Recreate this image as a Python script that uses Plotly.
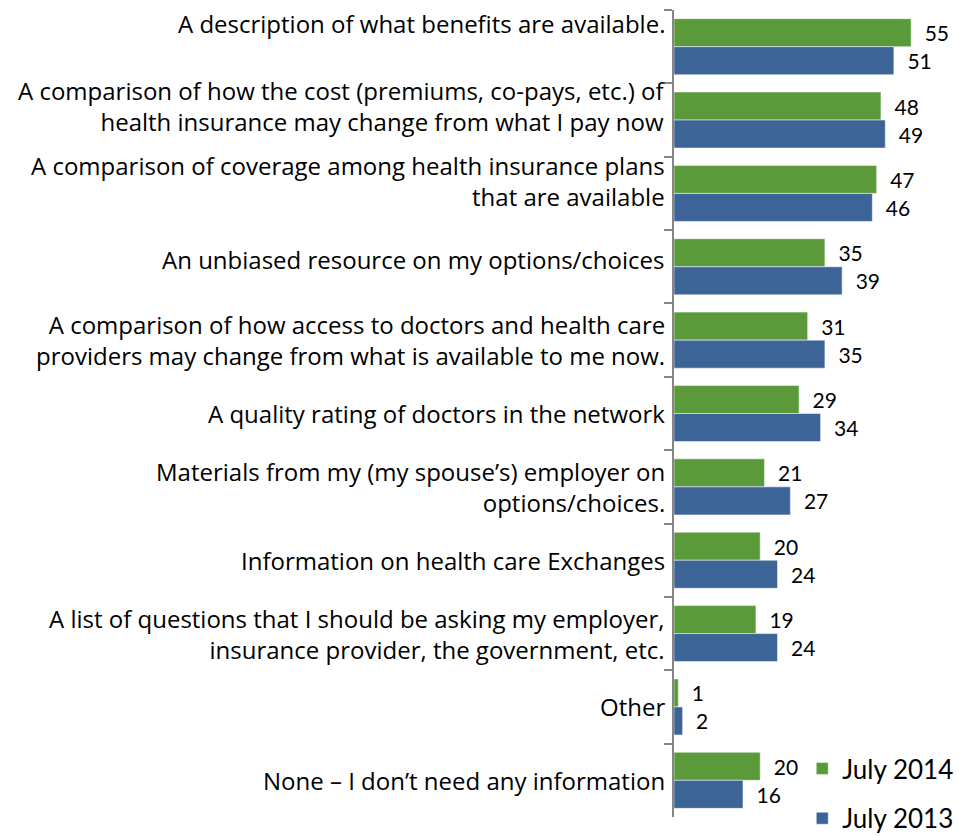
import plotly.graph_objects as go

categories = [
    "A description of what benefits are available.",
    "A comparison of how the cost (premiums, co-pays, etc.) of<br>health insurance may change from what I pay now",
    "A comparison of coverage among health insurance plans<br>that are available",
    "An unbiased resource on my options/choices",
    "A comparison of how access to doctors and health care<br>providers may change from what is available to me now.",
    "A quality rating of doctors in the network",
    "Materials from my (my spouse\u2019s) employer on<br>options/choices.",
    "Information on health care Exchanges",
    "A list of questions that I should be asking my employer,<br>insurance provider, the government, etc.",
    "Other",
    "None \u2013 I don\u2019t need any information",
]
july_2014 = [55, 48, 47, 35, 31, 29, 21, 20, 19, 1, 20]
july_2013 = [51, 49, 46, 39, 35, 34, 27, 24, 24, 2, 16]

# vertical nudge (px) of each category label relative to its band
label_nudge = [23, 14, 12, 7, 0, 0, 0, 0, 0, 0, 0]

GREEN = "#5B9A3B"
BLUE = "#3C6496"
LABEL_FONT = "Open Sans"
NUM_FONT = "Lato"

fig = go.Figure()
for name, values, color, group in [
    ("July 2014", july_2014, GREEN, "a"),
    ("July 2013", july_2013, BLUE, "b"),
]:
    fig.add_trace(go.Bar(
        name=name,
        y=categories,
        x=values,
        orientation="h",
        marker=dict(color=color, line=dict(color="rgba(255,255,255,0.5)", width=1)),
        text=values,
        texttemplate="\u2002%{x}",
        textposition="outside",
        constraintext="none",
        cliponaxis=False,
        textfont=dict(family=NUM_FONT, size=21, color="#000000"),
        legendgroup=group,
        hoverinfo="skip",
    ))

# category labels, right-aligned against the axis
for cat, nudge in zip(categories, label_nudge):
    fig.add_annotation(
        x=0, xref="paper", xanchor="right", xshift=-7,
        y=cat, yref="y", yanchor="middle", yshift=nudge,
        text=cat, align="right", showarrow=False,
        font=dict(family=LABEL_FONT, size=24, color="#000000"),
    )

fig.update_layout(
    width=959,
    height=836,
    margin=dict(l=674, r=0, t=10, b=19, autoexpand=False),
    paper_bgcolor="white",
    plot_bgcolor="white",
    barmode="group",
    bargap=0.236,
    bargroupgap=0,
    showlegend=True,
    legend=dict(
        x=0.45, xanchor="left",
        y=-0.031, yanchor="bottom",
        font=dict(family=NUM_FONT, size=26, color="#000000"),
        tracegroupgap=13,
        bgcolor="rgba(0,0,0,0)",
    ),
    xaxis=dict(
        range=[0, 66.1],
        showgrid=False,
        zeroline=False,
        showticklabels=False,
        ticks="",
        showline=False,
    ),
    yaxis=dict(
        autorange="reversed",
        showline=True,
        linecolor="#868686",
        linewidth=1.5,
        ticks="outside",
        tickson="boundaries",
        ticklen=8,
        tickcolor="#868686",
        tickwidth=1.5,
        showgrid=False,
        showticklabels=False,
    ),
)

fig.write_html("out.html")
